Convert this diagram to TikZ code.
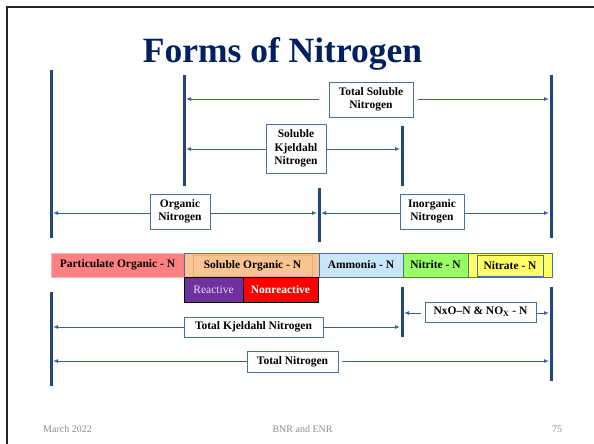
\documentclass[tikz,border=0pt]{standalone}
\usepackage{fontspec}
\setmainfont{Liberation Serif}
\usetikzlibrary{arrows.meta}
\definecolor{barblue}{HTML}{1F497D}
\definecolor{arrblue}{HTML}{365F9E}
\definecolor{boxblue}{HTML}{4A6FA5}
\definecolor{titleblue}{HTML}{002060}
\definecolor{partc}{HTML}{FF8080}
\definecolor{partedge}{HTML}{FFB4B4}
\definecolor{solc}{HTML}{FAC394}
\definecolor{solin}{HTML}{E6AA7A}
\definecolor{ammc}{HTML}{C8E6FA}
\definecolor{nitic}{HTML}{99FF66}
\definecolor{natc}{HTML}{FFFF66}
\definecolor{reacc}{HTML}{7030A0}
\definecolor{reactext}{HTML}{E6DCF0}
\definecolor{footc}{HTML}{8C8C8C}
\tikzset{
  bar/.style={draw=barblue, line width=3pt},
  dimarr/.style={draw=arrblue, line width=0.9pt, -{Latex[length=5pt,width=4pt]}},
  lbl/.style={draw=boxblue, line width=0.8pt, fill=white, font=\bfseries\fontsize{11.5}{13.5}\selectfont, align=center, inner sep=0pt},
  band/.style={draw=boxblue, line width=0.8pt, font=\bfseries\fontsize{11.5}{13}\selectfont, inner sep=0pt, minimum height=24pt},
  subband/.style={draw=black, line width=1pt, font=\fontsize{11.5}{13}\selectfont, inner sep=0pt, minimum height=25pt},
  foot/.style={text=footc, font=\fontsize{10}{12}\selectfont, inner sep=0pt},
}
\begin{document}
\begin{tikzpicture}[x=1pt,y=-1pt]
\useasboundingbox (0,0) rectangle (594,444);
% slide frame
\draw[line width=2pt, black!85] (7,444) -- (7,7) -- (594,7);
% title
\node[text=titleblue, font=\bfseries\fontsize{35.5}{40}\selectfont, inner sep=0pt, anchor=base] (title) at (282.5,63) {Forms of Nitrogen};
% vertical bars
\draw[bar] (51,70) -- (51,238);
\draw[bar] (184,75) -- (184,186);
\draw[bar] (402,126) -- (402,186);
\draw[bar] (551,75) -- (551,238);
\draw[bar] (319,188) -- (319,242);
\draw[bar] (51,292) -- (51,386);
\draw[bar] (402,287) -- (402,337);
\draw[bar] (551,287) -- (551,381);
% arrow end coordinates
\coordinate (tsnL) at (186,99);
\coordinate (tsnR) at (549,99);
\coordinate (sknL) at (186,149);
\coordinate (sknR) at (400,149);
\coordinate (orgL) at (53,213);
\coordinate (orgR) at (317,213);
\coordinate (inoL) at (321,213);
\coordinate (inoR) at (549,213);
\coordinate (tknL) at (53,327);
\coordinate (tknR) at (400,327);
\coordinate (noxL) at (404,313);
\coordinate (noxR) at (549,313);
\coordinate (tnL) at (53,361);
\coordinate (tnR) at (549,361);
% label boxes
\node[lbl, minimum width=84pt, minimum height=35pt] (tsn) at (371,99.5) {Total Soluble\\Nitrogen};
\node[lbl, minimum width=60pt, minimum height=49pt] (skn) at (296,148.5) {Soluble\\Kjeldahl\\Nitrogen};
\node[lbl, minimum width=60pt, minimum height=35pt] (org) at (180,211.5) {Organic\\Nitrogen};
\node[lbl, minimum width=64pt, minimum height=35pt] (ino) at (432,211.5) {Inorganic\\Nitrogen};
\node[lbl, minimum width=139pt, minimum height=20pt] (tkn) at (253.5,327) {Total Kjeldahl Nitrogen};
\node[lbl, minimum width=111pt, minimum height=20pt] (nox) at (480.5,312) {NxO--N \& NO\textsubscript{X} - N};
\node[lbl, minimum width=91pt, minimum height=21pt] (tn) at (292.5,361.5) {Total Nitrogen};
% arrows
\draw[dimarr, shorten <=10pt] (tsn.west |- tsnL) -- (tsnL);
\draw[dimarr, shorten <=5pt] (tsn.east |- tsnR) -- (tsnR);
\draw[dimarr] (skn.west |- sknL) -- (sknL);
\draw[dimarr] (skn.east |- sknR) -- (sknR);
\draw[dimarr] (org.west |- orgL) -- (orgL);
\draw[dimarr] (org.east |- orgR) -- (orgR);
\draw[dimarr] (ino.west |- inoL) -- (inoL);
\draw[dimarr] (ino.east |- inoR) -- (inoR);
\draw[dimarr] (tkn.west |- tknL) -- (tknL);
\draw[dimarr] (tkn.east |- tknR) -- (tknR);
\draw[dimarr, shorten <=4pt] (nox.west |- noxL) -- (noxL);
\draw[dimarr] (nox.east |- noxR) -- (noxR);
\draw[dimarr] (tn.west |- tnL) -- (tnL);
\draw[dimarr, shorten <=4pt] (tn.east |- tnR) -- (tnR);
% bands
\node[band, draw=partedge, fill=partc, minimum width=133pt] (part) at (117.5,265) {Particulate Organic - N};
\node[band, fill=solc, minimum width=135pt] (sol) at (251.5,265) {};
\node[draw=solin, line width=0.6pt, inner sep=0pt, minimum width=119pt, minimum height=21pt, font=\bfseries\fontsize{11.5}{13}\selectfont] (solt) at (252.5,265.5) {Soluble Organic - N};
\node[band, fill=ammc, minimum width=84pt] (amm) at (361,265) {Ammonia - N};
\node[band, fill=nitic, minimum width=65pt] (nii) at (435.5,265) {Nitrite - N};
\node[band, fill=natc, minimum width=84pt] (nat) at (510,265) {};
\node[draw=boxblue, line width=0.7pt, inner sep=0pt, minimum width=66pt, minimum height=21pt, font=\bfseries\fontsize{11.5}{13}\selectfont] (natt) at (510,265.5) {Nitrate - N};
\node[subband, fill=reacc, text=reactext, minimum width=59pt] (reac) at (213.5,289.5) {Reactive};
\node[subband, fill=red, text=white, font=\bfseries\fontsize{11.5}{13}\selectfont, minimum width=75pt] (nonr) at (280.5,289.5) {Nonreactive};
% footer
\node[foot, anchor=west] (date) at (43,429) {March 2022};
\node[foot] (mid) at (302.5,429) {BNR and ENR};
\node[foot] (pg) at (557,429) {75};
\end{tikzpicture}
\end{document}
